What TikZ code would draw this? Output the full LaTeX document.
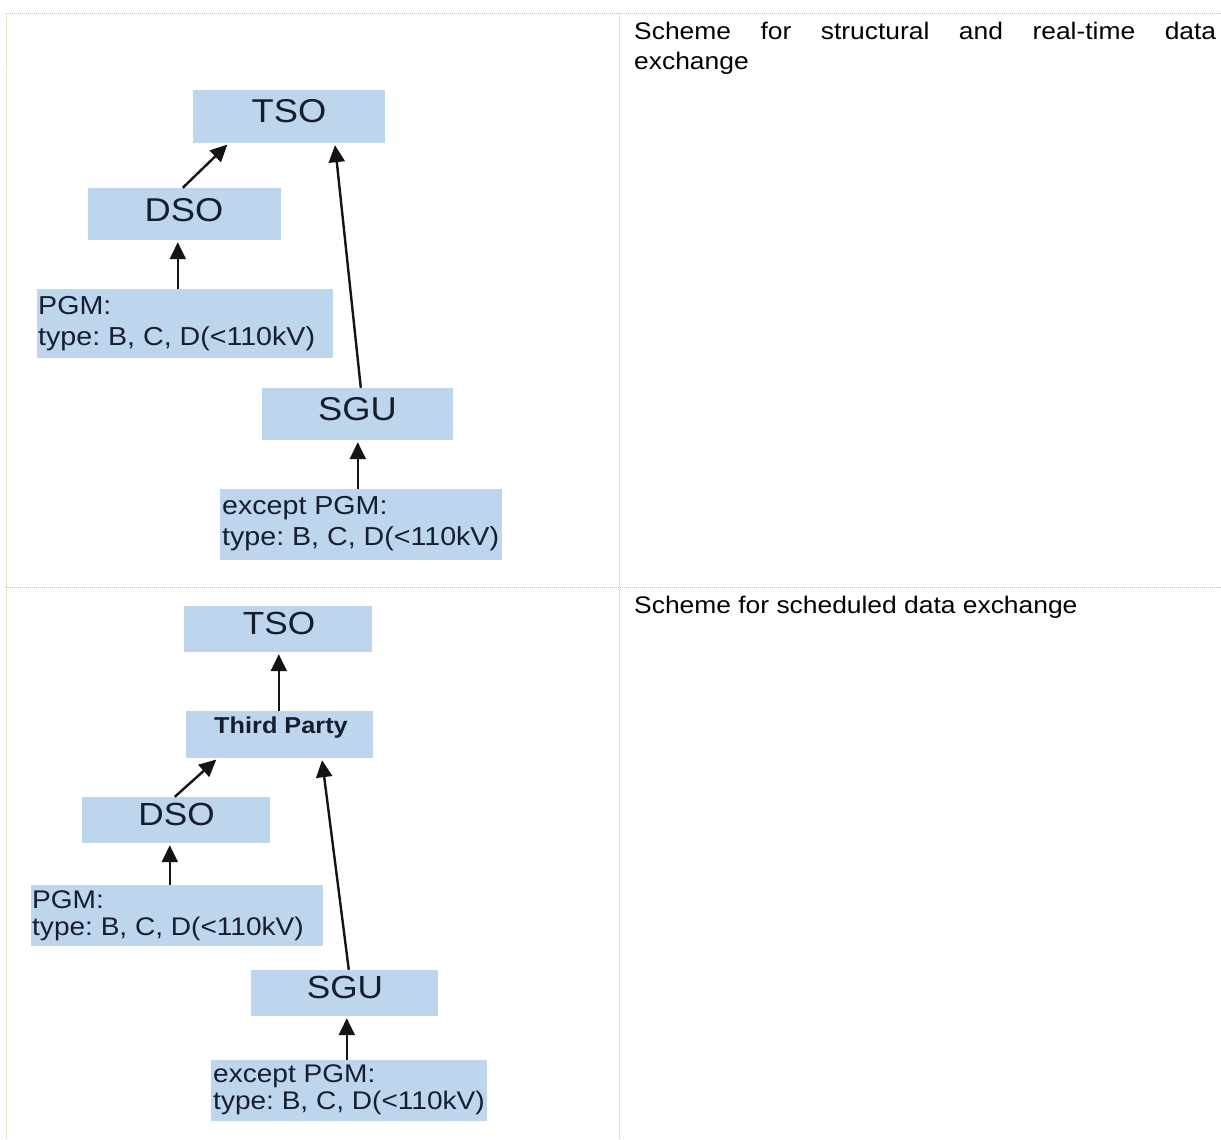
\documentclass[tikz,border=0pt]{standalone}
\usepackage{fontspec}
\setmainfont{Liberation Sans}[FakeStretch=1.1]
\usetikzlibrary{arrows.meta,fit}
\definecolor{boxblue}{RGB}{189,214,238}
\definecolor{boxtext}{RGB}{22,30,46}
\definecolor{gridgreen}{RGB}{188,208,145}
\definecolor{arrowc}{RGB}{20,20,20}
\frenchspacing
\begin{document}
\begin{tikzpicture}[x=1pt,y=-1pt,
  box/.style={fill=boxblue, draw=none, inner sep=0pt},
  bigA/.style={font=\fontsize{33}{38}\selectfont, text=boxtext, inner sep=0pt, anchor=base},
  bigB/.style={font=\fontsize{32}{36}\selectfont, text=boxtext, inner sep=0pt, anchor=base},
  tpfont/.style={font=\fontsize{23}{27}\bfseries\selectfont, text=boxtext, inner sep=0pt, anchor=base},
  smallA/.style={font=\fontsize{26}{31}\selectfont, text=boxtext, inner sep=0pt, anchor=base west},
  smallB/.style={font=\fontsize{25.5}{27}\selectfont, text=boxtext, inner sep=0pt, anchor=base west},
  captxt/.style={font=\fontsize{24}{30}\selectfont, text=black, inner sep=0pt, anchor=base west},
  arr/.style={draw=arrowc, line width=2.4pt, -{Triangle[length=17pt,width=16pt]}, shorten >=2pt},
  grid/.style={draw=gridgreen, line width=1pt, dash pattern=on 1pt off 1pt}]
\fill[white] (0,0) rectangle (1221,1140);
\useasboundingbox (0,0) rectangle (1221,1140);

% table rules
\draw[grid] (6,14) -- (1221,14);
\draw[grid] (6,587) -- (1221,587);
\draw[grid] (6,14) -- (6,1140);
\draw[grid] (619,14) -- (619,1140);

% ---------- top panel ----------
\node[box, fit={(193,90) (385,143)}] (tso1) {};
\node[box, fit={(88,188) (281,240)}] (dso1) {};
\node[box, fit={(37,289) (333,358)}] (pgm1) {};
\node[box, fit={(262,388) (453,440)}] (sgu1) {};
\node[box, fit={(220,489) (502,560)}] (exc1) {};

\node[bigA] (tso1t) at (289,122) {TSO};
\node[bigA] (dso1t) at (184,221) {DSO};
\node[bigA] (sgu1t) at (357.5,420) {SGU};
\node[smallA] (pgm1t) at (38,314) {\begin{tabular}[t]{@{}l@{}}PGM:\\type: B, C, D(<110kV)\end{tabular}};
\node[smallA] (exc1t) at (222,514) {\begin{tabular}[t]{@{}l@{}}except PGM:\\type: B, C, D(<110kV)\end{tabular}};

\draw[arr] ([xshift=95pt]dso1.north west) -- ([xshift=36pt]tso1.south west);
\coordinate (a1) at ([xshift=141pt]pgm1.north west);
\draw[arr] (a1) -- (a1 |- dso1.south);
\draw[arr] ([xshift=99pt]sgu1.north west) -- ([xshift=142pt]tso1.south west);
\coordinate (a2) at ([xshift=138pt]exc1.north west);
\draw[arr] (a2) -- (a2 |- sgu1.south);

\node[captxt] (cap1) at (634,40) {\begin{tabular}[t]{@{}l@{}}\makebox[582pt][s]{Scheme for structural and real-time data}\\exchange\end{tabular}};

% ---------- bottom panel ----------
\node[box, fit={(184,606) (372,652)}] (tso2) {};
\node[box, fit={(186,711) (373,758)}] (tp2) {};
\node[box, fit={(82,797) (270,843)}] (dso2) {};
\node[box, fit={(31,885) (323,946)}] (pgm2) {};
\node[box, fit={(251,970) (438,1016)}] (sgu2) {};
\node[box, fit={(211,1060) (487,1121)}] (exc2) {};

\node[bigB] (tso2t) at (279,634) {TSO};
\node[tpfont] (tp2t) at (281,733) {Third Party};
\node[bigB] (dso2t) at (176.5,825) {DSO};
\node[bigB] (sgu2t) at (345,998) {SGU};
\node[smallB] (pgm2t) at (32,908) {\begin{tabular}[t]{@{}l@{}}PGM:\\type: B, C, D(<110kV)\end{tabular}};
\node[smallB] (exc2t) at (213,1082) {\begin{tabular}[t]{@{}l@{}}except PGM:\\type: B, C, D(<110kV)\end{tabular}};

\coordinate (b1) at ([xshift=93pt]tp2.north west);
\draw[arr] (b1) -- (b1 |- tso2.south);
\draw[arr] ([xshift=93pt]dso2.north west) -- ([xshift=32pt]tp2.south west);
\coordinate (b2) at ([xshift=139pt]pgm2.north west);
\draw[arr] (b2) -- (b2 |- dso2.south);
\draw[arr] ([xshift=98pt]sgu2.north west) -- ([xshift=136pt]tp2.south west);
\coordinate (b3) at ([xshift=136pt]exc2.north west);
\draw[arr] (b3) -- (b3 |- sgu2.south);

\node[captxt] (cap2) at (634,613) {Scheme for scheduled data exchange};
\end{tikzpicture}
\end{document}
